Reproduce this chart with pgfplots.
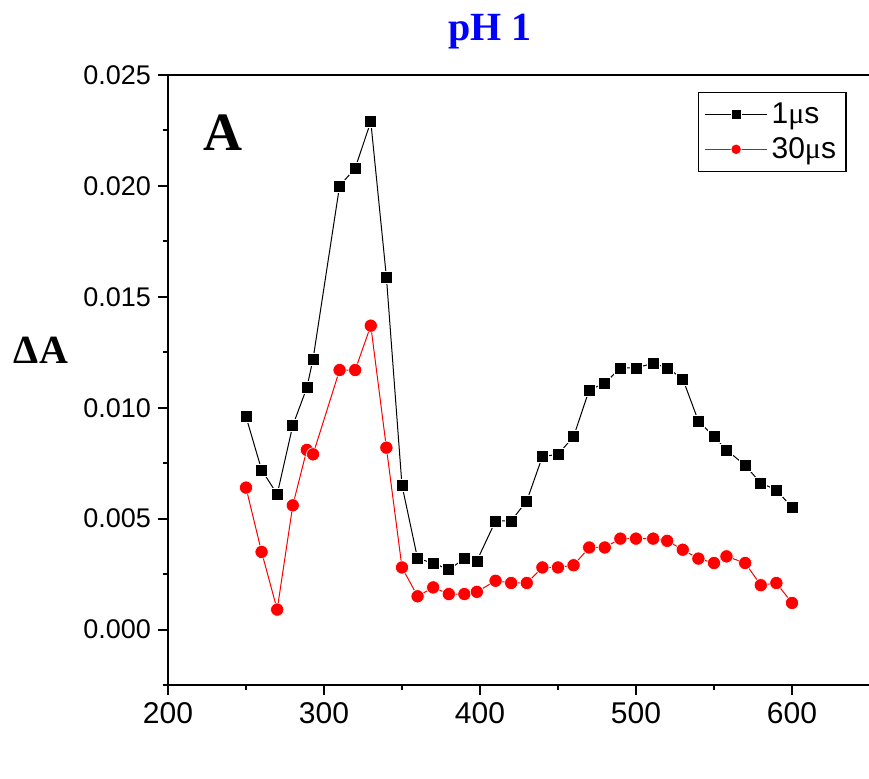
\documentclass[border=0pt]{standalone}
\usepackage{fontspec}
\setmainfont{Liberation Sans}
\newfontfamily\serifr{Liberation Serif}
\usepackage{pgfplots}
\usepackage{pgfplotstable}
\pgfplotsset{compat=1.18}

% wavelength (nm) vs Delta A
\pgfplotstableread{
x y
250 0.0096
260 0.0072
270 0.0061
280 0.0092
289 0.0109
293 0.0122
310 0.0200
320 0.0208
330 0.0229
340 0.0159
350 0.0065
360 0.0032
370 0.0030
380 0.0027
390 0.0032
398 0.0031
410 0.0049
420 0.0049
430 0.0058
440 0.0078
450 0.0079
460 0.0087
470 0.0108
480 0.0111
490 0.0118
500 0.0118
511 0.0120
520 0.0118
530 0.0113
540 0.0094
550 0.0087
558 0.0081
570 0.0074
580 0.0066
590 0.0063
600 0.0055
}\onemus

\pgfplotstableread{
x y
250 0.0064
260 0.0035
270 0.0009
280 0.0056
289 0.0081
293 0.0079
310 0.0117
320 0.0117
330 0.0137
340 0.0082
350 0.0028
360 0.0015
370 0.0019
380 0.0016
390 0.0016
398 0.0017
410 0.0022
420 0.0021
430 0.0021
440 0.0028
450 0.0028
460 0.0029
470 0.0037
480 0.0037
490 0.0041
500 0.0041
511 0.0041
520 0.0040
530 0.0036
540 0.0032
550 0.0030
558 0.0033
570 0.0030
580 0.0020
590 0.0021
600 0.0012
}\thirtymus

\begin{document}
\begin{tikzpicture}
\begin{axis}[
    scale only axis,
    width=351pt, height=305pt,
    xmin=200, xmax=650,
    ymin=-0.0025, ymax=0.025,
    axis x line*=bottom,
    axis y line*=left,
    axis line style={line width=1pt, -},
    xtick={200,300,400,500,600},
    minor xtick={250,350,450,550},
    ytick={0,0.005,0.01,0.015,0.02,0.025},
    minor ytick={-0.0025,0.0025,0.0075,0.0125,0.0175,0.0225},
    tick align=outside,
    major tick length=5pt,
    minor tick length=2.5pt,
    every tick/.style={line width=1pt, black},
    scaled y ticks=false,
    /pgf/number format/assume math mode=true,
    yticklabel style={/pgf/number format/fixed,
        /pgf/number format/fixed zerofill,
        /pgf/number format/precision=3,
        font=\fontsize{13.5}{15}\selectfont},
    xticklabel style={font=\fontsize{15}{17}\selectfont},
    clip=false,
    legend style={at={(0.755,0.972)}, anchor=north west,
        draw=black, line width=0.6pt,
        font=\fontsize{15}{17}\selectfont,
        inner xsep=3pt, inner ysep=3pt, row sep=1.5pt},
    legend cell align=left,
    legend image code/.code={
        \draw[mark repeat=2, mark phase=2, mark size=2.6pt]
        plot coordinates {(0pt,0pt) (15.5pt,0pt) (31pt,0pt)};},
]
\addplot[black, line width=0.5pt, mark=square*, mark size=3pt,
    mark options={fill=black, draw=white, line width=0.3pt}]
    table[x=x, y=y] {\onemus};
\addlegendentry{1{\serifr μ}s}
\addplot[red, line width=0.5pt, mark=*, mark size=3.3pt,
    mark options={fill=red, draw=white, line width=0.3pt}]
    table[x=x, y=y] {\thirtymus};
\addlegendentry{30{\serifr μ}s}

\draw[line width=0.7pt] (rel axis cs:0,1) -- (rel axis cs:1,1);
\node[font=\serifr\bfseries\fontsize{20}{22}\selectfont, text=blue]
    at (rel axis cs:0.4587,1.0705) {pH 1};
\node[font=\serifr\bfseries\fontsize{20}{22}\selectfont]
    at (rel axis cs:-0.181,0.549) {ΔA};
\node[font=\serifr\bfseries\fontsize{27}{29}\selectfont]
    at (rel axis cs:0.078,0.905) {A};

\coordinate (bbsw) at (rel axis cs:-0.2393,-0.1525);
\coordinate (bbne) at (rel axis cs:0.9986,1.123);
\end{axis}
\pgfresetboundingbox
\path (bbsw) rectangle (bbne);
\end{tikzpicture}
\end{document}
